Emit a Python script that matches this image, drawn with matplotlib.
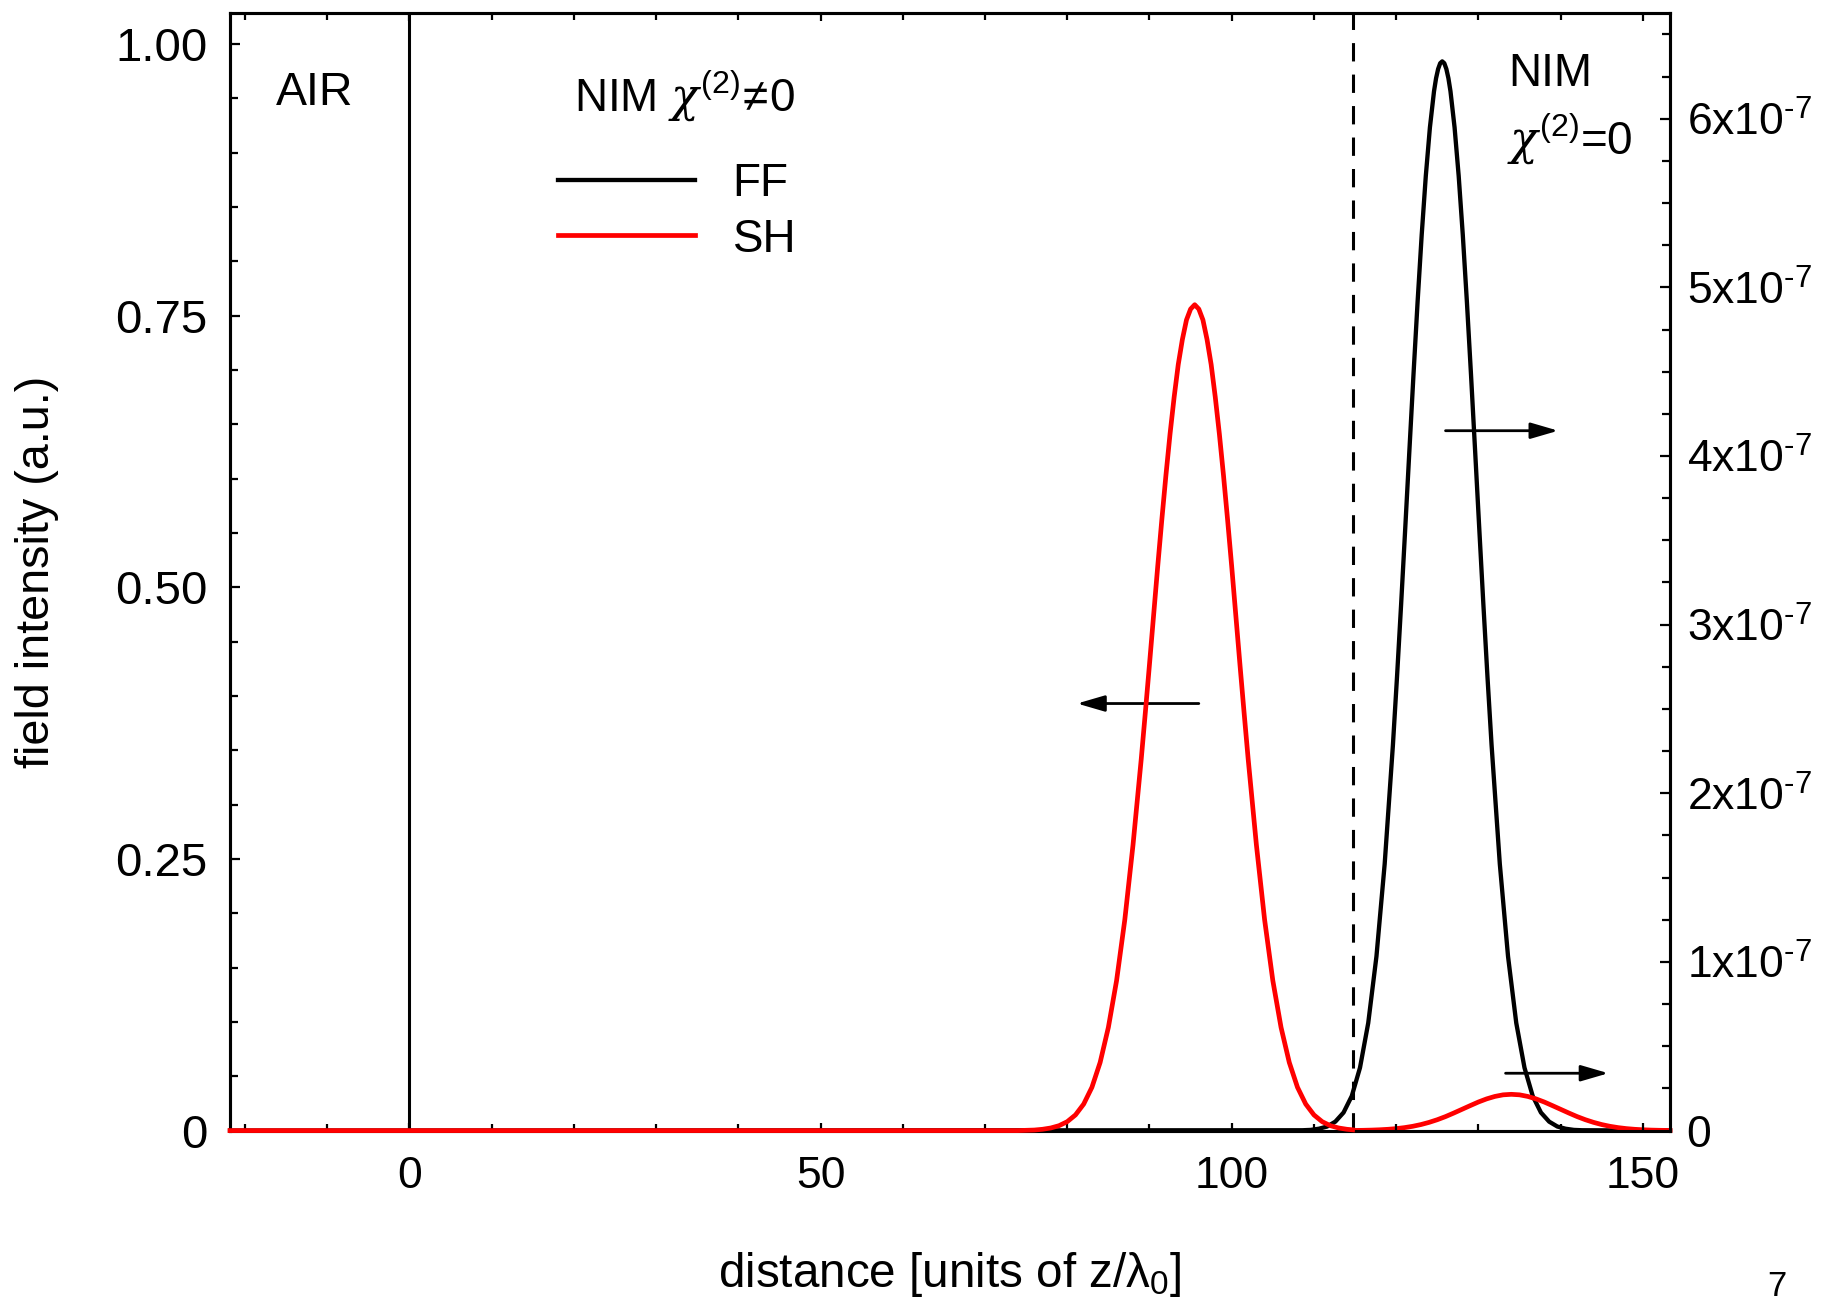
import numpy as np
import matplotlib
matplotlib.use("Agg")
import matplotlib.pyplot as plt
from matplotlib.ticker import FixedLocator, MultipleLocator

plt.rcParams['font.family'] = ['Liberation Sans', 'DejaVu Sans']
plt.rcParams['mathtext.fontset'] = 'custom'
plt.rcParams['mathtext.rm'] = 'Liberation Sans'
plt.rcParams['mathtext.it'] = 'DejaVu Serif:italic'
plt.rcParams['mathtext.default'] = 'regular'

# axis ranges
x_range = (-21.8, 153.3)
left_range = (0.0, 1.028)
right_range = (0.0, 6.624e-7)
interfaces = [0.0, 114.7]   # air/NIM boundary, end of the chi(2) layer

# SH inside the nonlinear slab (left axis)
sh_nim_x = [-21.8, 74, 76, 77, 78, 79, 80, 81, 82, 83, 84, 85, 86, 87, 88, 89, 89.5,
            90, 90.5, 91, 91.5, 92, 92.5, 93, 93.5, 94, 94.5, 95, 95.5, 96, 96.5,
            97, 97.5, 98, 98.5, 99, 99.5, 100, 100.5, 101, 101.5, 102, 103, 104,
            105, 106, 107, 108, 109, 110, 111, 112, 113, 114, 114.7]
sh_nim_y = [0, 0, 0.0005, 0.0012, 0.0024, 0.0045, 0.0082, 0.0144, 0.0244, 0.0398,
            0.0627, 0.0949, 0.138, 0.194, 0.263, 0.342, 0.385, 0.429, 0.474, 0.519,
            0.562, 0.603, 0.641, 0.675, 0.705, 0.728, 0.746, 0.756, 0.760, 0.756,
            0.746, 0.728, 0.705, 0.675, 0.641, 0.603, 0.562, 0.519, 0.474, 0.429,
            0.385, 0.342, 0.263, 0.194, 0.138, 0.0949, 0.0627, 0.0398, 0.0244,
            0.0144, 0.0082, 0.0045, 0.0024, 0.0012, 0.0007]

# FF pulse (right axis, units of 1e-7)
ff_x = [-21.8, 108.6, 109.6, 110.6, 111.6, 112.6, 113.6, 114.6, 115.6, 116.6, 117.6,
        118.6, 119.6, 120.1, 120.6, 121.1, 121.6, 122.1, 122.6, 123.1, 123.6, 124.1,
        124.6, 124.85, 125.1, 125.35, 125.6, 125.85, 126.1, 126.35, 126.6, 127.1,
        127.6, 128.1, 128.6, 129.1, 129.6, 130.1, 130.6, 131.1, 131.6, 132.6, 133.6,
        134.6, 135.6, 136.6, 137.6, 138.6, 139.6, 140.6, 141.6, 142.6, 153.3]
ff_y = [0, 0.002, 0.004, 0.011, 0.024, 0.053, 0.107, 0.205, 0.373, 0.638, 1.033,
        1.581, 2.285, 2.690, 3.121, 3.571, 4.028, 4.480, 4.912, 5.310, 5.660, 5.948,
        6.163, 6.240, 6.295, 6.329, 6.340, 6.329, 6.295, 6.240, 6.163, 5.948,
        5.660, 5.310, 4.912, 4.480, 4.028, 3.571, 3.121, 2.690, 2.285, 1.581, 1.033,
        0.638, 0.373, 0.205, 0.107, 0.053, 0.024, 0.011, 0.004, 0.002, 0]

# SH in the linear NIM (right axis, units of 1e-7)
sh_out_x = [114.7, 115, 116, 117, 118, 119, 120, 121, 122, 123, 124, 125, 126, 127,
            128, 129, 130, 131, 132, 133, 134, 135, 136, 137, 138, 139, 140, 141,
            142, 143, 144, 145, 146, 147, 148, 149, 150, 151, 152, 153, 153.3]
sh_out_y = [0.0009, 0.0010, 0.0017, 0.0029, 0.0048, 0.0076, 0.0117, 0.0175, 0.0253,
            0.0356, 0.0487, 0.0645, 0.083, 0.104, 0.126, 0.148, 0.1695, 0.188, 0.2025,
            0.212, 0.215, 0.212, 0.2025, 0.188, 0.1695, 0.148, 0.126, 0.104, 0.083,
            0.0645, 0.0487, 0.0356, 0.0253, 0.0175, 0.0117, 0.0076, 0.0048, 0.0029,
            0.0017, 0.0010, 0.0009]

left_ticks = [0, 0.25, 0.5, 0.75, 1.0]
left_labels = ['0', '0.25', '0.50', '0.75', '1.00']
right_ticks = [0, 1e-7, 2e-7, 3e-7, 4e-7, 5e-7, 6e-7]
right_labels = ['0'] + [r'$%d\mathrm{x}10^{\text{-}7}$' % k for k in range(1, 7)]
x_ticks = [0, 50, 100, 150]

fig = plt.figure(figsize=(18.33, 13.09), dpi=100)
ax = fig.add_axes([0.1255, 0.1363, 0.7856, 0.8534])
ax2 = ax.twinx()

lw_axis = 2.2
for a in (ax, ax2):
    for s in a.spines.values():
        s.set_linewidth(lw_axis)

ax.set_xlim(*x_range)
ax.set_ylim(*left_range)
ax2.set_ylim(*right_range)

# region boundaries
ax.axvline(interfaces[0], color='black', lw=2.2)
ax.axvline(interfaces[1], color='black', lw=2.2, linestyle=(0, (6, 4.3)))

ff_line, = ax2.plot(ff_x, np.array(ff_y) * 1e-7, color='black', lw=3.1,
                    clip_on=False, zorder=3)
sh_line, = ax.plot(sh_nim_x, sh_nim_y, color='#ff0000', lw=3.4, clip_on=False,
                   zorder=4)
ax.set_zorder(ax2.get_zorder() + 1)
ax.patch.set_visible(False)
ax2.plot(sh_out_x, np.array(sh_out_y) * 1e-7, color='#ff0000', lw=3.4,
         clip_on=False, zorder=4)

# ticks
ax.xaxis.set_major_locator(FixedLocator(x_ticks))
ax.xaxis.set_minor_locator(MultipleLocator(10))
ax.yaxis.set_major_locator(FixedLocator(left_ticks))
ax.yaxis.set_minor_locator(MultipleLocator(0.05))
ax.set_yticklabels(left_labels)
ax2.yaxis.set_major_locator(FixedLocator(right_ticks))
ax2.yaxis.set_minor_locator(MultipleLocator(2.5e-8))
ax2.set_yticklabels(right_labels)

ax.tick_params(axis='x', which='both', direction='in', top=True, bottom=True,
               width=1.6, labelsize=32, pad=18)
ax.tick_params(axis='x', which='major', length=6)
ax.tick_params(axis='x', which='minor', length=5)
ax.tick_params(axis='y', which='both', direction='in', left=True, right=False,
               width=1.6, labelsize=34, pad=16)
ax.tick_params(axis='y', which='major', length=7)
ax.tick_params(axis='y', which='minor', length=6)
ax2.tick_params(axis='y', which='both', direction='in', right=True, width=1.6,
                labelsize=32, pad=12)
ax2.tick_params(axis='y', which='major', length=7)
ax2.tick_params(axis='y', which='minor', length=6)

ax.set_xlabel(r'distance [units of z/$\lambda_0$]', fontsize=34.3)
ax.xaxis.set_label_coords(0.5, -0.107)
ax.set_ylabel('field intensity (a.u.)', fontsize=33.7)
ax.yaxis.set_label_coords(-0.119, 0.5)

# arrows pointing to the axis each curve belongs to
arrow = dict(arrowstyle='-|>,head_length=1.2,head_width=0.35', color='black',
             lw=2.0, mutation_scale=14, shrinkA=0, shrinkB=0)
ax.annotate('', xy=(81.2, 0.393), xytext=(96.0, 0.393), arrowprops=arrow)
ax2.annotate('', xy=(139.7, 4.15e-7), xytext=(126.0, 4.15e-7), arrowprops=arrow)
ax2.annotate('', xy=(145.8, 0.34e-7), xytext=(133.3, 0.34e-7), arrowprops=arrow)

# region labels
ax.text(-16.2, 0.944, 'AIR', fontsize=33.5, ha='left', va='baseline')
ax.text(20.0, 0.9386, r'NIM $\mathit{\chi}^{(2)}\!\neq\!0$', fontsize=33,
        ha='left', va='baseline')
ax.text(133.6, 0.961, 'NIM', fontsize=33, ha='left', va='baseline')
ax.text(133.5, 0.899, r'$\mathit{\chi}^{(2)}$=0', fontsize=33, ha='left',
        va='baseline')

ax2.legend([ff_line, sh_line], ['FF', 'SH'], loc='upper left',
           bbox_to_anchor=(0.2275, 0.867), frameon=False, fontsize=33,
           handlelength=3.0, handletextpad=0.82, labelspacing=0.25,
           borderpad=0, borderaxespad=0)

fig.text(0.9695, 0.0175, '7', fontsize=25, ha='center', va='center')

fig.savefig('out.png', dpi=100)
